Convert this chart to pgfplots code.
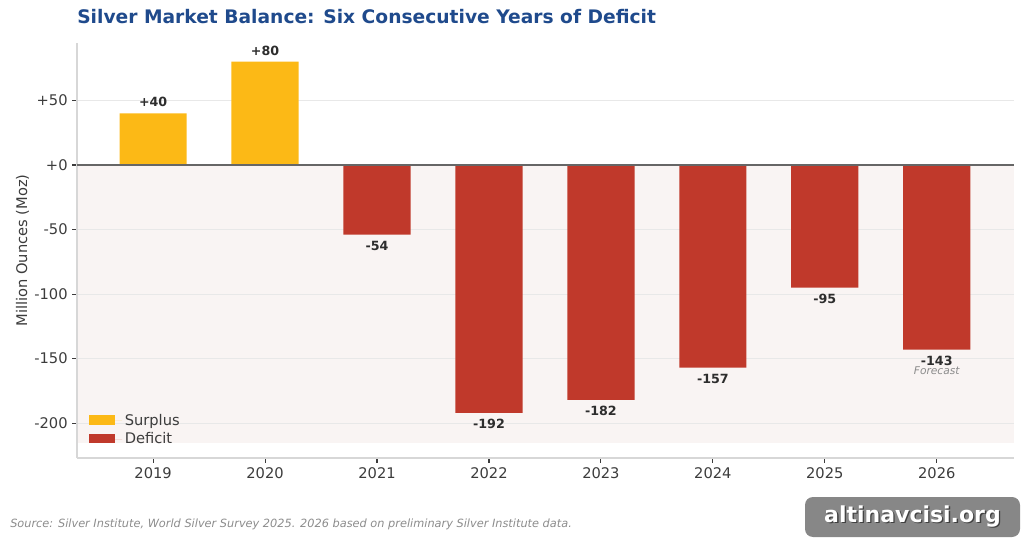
\documentclass[border=0pt]{standalone}
\usepackage{pgfplots}
\pgfplotsset{compat=1.18}
\usepackage{fontspec}
\setmainfont{DejaVu Sans}
\usetikzlibrary{backgrounds}

\definecolor{surplus}{RGB}{252,185,22}
\definecolor{deficit}{RGB}{192,57,43}
\definecolor{titleblue}{RGB}{31,74,140}
\definecolor{bandfill}{RGB}{249,244,243}
\definecolor{gridgray}{RGB}{232,232,232}
\definecolor{spine}{RGB}{215,215,215}
\definecolor{ticktext}{RGB}{60,60,60}
\definecolor{valtext}{RGB}{45,45,45}

\begin{document}
\begin{tikzpicture}
\begin{axis}[
  scale only axis,
  width=702.75pt, height=311.25pt,
  xmin=-0.68, xmax=7.69,
  ymin=-227, ymax=94.5,
  axis x line*=bottom, axis y line*=left,
  axis line style={spine, line width=0.8pt},
  xtick={0,...,7},
  xticklabels={2019,2020,2021,2022,2023,2024,2025,2026},
  ytick={-200,-150,-100,-50,0,50},
  yticklabels={-200,-150,-100,-50,+0,+50},
  tick label style={font=\fontsize{11}{13}\selectfont, text=ticktext},
  major tick length=3.5pt,
  tick align=outside,
  tick style={ticktext, line width=0.8pt},
  ymajorgrids, grid style={gridgray, line width=0.6pt},
  ylabel={Million Ounces (Moz)},
  ylabel style={font=\fontsize{11}{13}\selectfont, text=ticktext, yshift=-3pt},
  ybar, bar width=0.6, bar shift=0pt,
  nodes near coords,
  point meta=explicit symbolic,
  every node near coord/.append style={font=\bfseries\fontsize{9.5}{11}\selectfont, text=valtext, inner sep=4.5pt},
  legend style={at={(rel axis cs:0.008,0.016)}, anchor=south west, draw=none, fill=none,
    font=\fontsize{11}{13}\selectfont, text=ticktext, row sep=0pt},
  legend cell align=left,
  clip=false,
]
% pale band behind the deficit side of the balance
\begin{pgfonlayer}{background}
\fill[bandfill] (axis cs:-0.68,0) rectangle (axis cs:7.69,-215);
\end{pgfonlayer}

\addplot[fill=surplus, draw=none,
  legend image code/.code={\fill[surplus] (0pt,-3pt) rectangle (20pt,4pt);\path (0pt,0pt) -- (25pt,0pt);}]
  coordinates {(0,40) [+40] (1,80) [+80]};
\addlegendentry{Surplus}

\addplot[fill=deficit, draw=none,
  every node near coord/.append style={anchor=north},
  legend image code/.code={\fill[deficit] (0pt,-3pt) rectangle (20pt,4pt);\path (0pt,0pt) -- (25pt,0pt);}]
  coordinates {(2,-54) [-54] (3,-192) [-192] (4,-182) [-182]
               (5,-157) [-157] (6,-95) [-95] (7,-143) [-143]};
\addlegendentry{Deficit}

% zero line
\draw[black!60, line width=0.9pt] (axis cs:-0.68,0) -- (axis cs:7.69,0);

\node[font=\itshape\fontsize{8}{9}\selectfont, text=black!45] at (axis cs:7,-143) [yshift=-16pt] {Forecast};
\end{axis}

% title
\node[anchor=west, inner sep=0pt, font=\bfseries\fontsize{14}{16}\selectfont, text=titleblue] at (0pt,330.75pt)
  {Silver Market Balance: Six Consecutive Years of Deficit};

% source note
\node[anchor=west, inner sep=0pt, font=\itshape\fontsize{8.5}{10}\selectfont, text=black!45] at (-50.25pt,-49.5pt)
  {Source: Silver Institute, World Silver Survey 2025. 2026 based on preliminary Silver Institute data.};

% watermark
\fill[black!47, rounded corners=6pt] (546pt,-29.25pt) rectangle (707.25pt,-59.25pt);
\node[font=\bfseries\fontsize{16.5}{18}\selectfont, text=black!75] at (627.6pt,-44.9pt) {altinavcisi.org};
\node[font=\bfseries\fontsize{16.5}{18}\selectfont, text=white] at (626.6pt,-44pt) {altinavcisi.org};

\pgfresetboundingbox
\path[use as bounding box] (-57.75pt,-63pt) rectangle (710.25pt,343.5pt);
\end{tikzpicture}
\end{document}
